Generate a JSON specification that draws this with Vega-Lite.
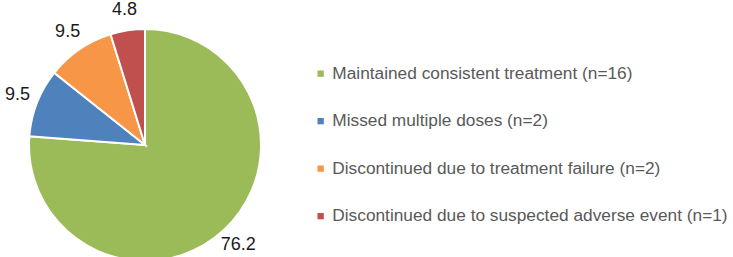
{
  "$schema": "https://vega.github.io/schema/vega-lite/v6.json",
  "width": 290,
  "height": 282,
  "padding": 0,
  "background": "white",
  "config": {"view": {"stroke": null}, "font": "Liberation Sans"},
  "data": {"values": [
    {"category": "Maintained consistent treatment (n=16)", "percent": 76.2, "order": 1},
    {"category": "Missed multiple doses (n=2)", "percent": 9.5, "order": 2},
    {"category": "Discontinued due to treatment failure (n=2)", "percent": 9.5, "order": 3},
    {"category": "Discontinued due to suspected adverse event (n=1)", "percent": 4.8, "order": 4}
  ]},
  "encoding": {
    "theta": {"field": "percent", "type": "quantitative", "stack": true},
    "order": {"field": "order", "type": "quantitative"}
  },
  "layer": [
    {
      "mark": {"type": "arc", "radius": 116, "stroke": "white", "strokeWidth": 2},
      "encoding": {
        "color": {
          "field": "category", "type": "nominal",
          "scale": {
            "domain": ["Maintained consistent treatment (n=16)", "Missed multiple doses (n=2)", "Discontinued due to treatment failure (n=2)", "Discontinued due to suspected adverse event (n=1)"],
            "range": ["#9BBB59", "#4F81BD", "#F79646", "#C0504D"]
          },
          "legend": {
            "orient": "none", "legendX": 312, "legendY": 61, "title": null,
            "symbolType": "square", "symbolSize": 40, "symbolStrokeWidth": 0,
            "labelFontSize": 17.3, "labelColor": "#595959", "labelLimit": 500,
            "rowPadding": 29.5, "labelOffset": 3
          }
        }
      }
    },
    {
      "mark": {"type": "text", "radius": 137, "fontSize": 18, "color": "#1a1a1a"},
      "encoding": {"text": {"field": "percent", "type": "quantitative", "format": ".1f"}}
    }
  ]
}
